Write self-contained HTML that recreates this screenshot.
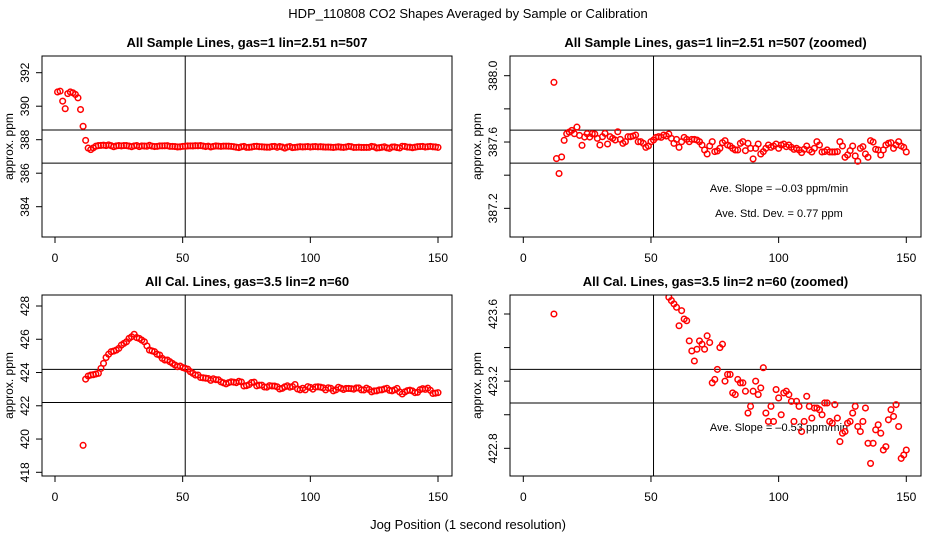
<!DOCTYPE html>
<html><head><meta charset="utf-8"><style>
html,body{margin:0;background:#fff;overflow:hidden;width:936px;height:540px}
svg{display:block;font-family:"Liberation Sans",sans-serif}
</style></head><body>
<svg id="c" width="936" height="540" viewBox="0 0 936 540">
<text x="468" y="18" text-anchor="middle" font-size="13">HDP_110808  CO2 Shapes Averaged by Sample or Calibration</text>
<text x="468" y="529" text-anchor="middle" font-size="13">Jog Position (1 second resolution)</text>
</svg>
<script>
const sampleX=[1,2,3,4,5,6,7,8,9,10,11,12,13,14,15,16,17,18,19,20,21,22,23,24,25,26,27,28,29,30,31,32,33,34,35,36,37,38,39,40,41,42,43,44,45,46,47,48,49,50,51,52,53,54,55,56,57,58,59,60,61,62,63,64,65,66,67,68,69,70,71,72,73,74,75,76,77,78,79,80,81,82,83,84,85,86,87,88,89,90,91,92,93,94,95,96,97,98,99,100,101,102,103,104,105,106,107,108,109,110,111,112,113,114,115,116,117,118,119,120,121,122,123,124,125,126,127,128,129,130,131,132,133,134,135,136,137,138,139,140,141,142,143,144,145,146,147,148,149,150];
const sampleY=[390.85,390.9,390.3,389.85,390.75,390.85,390.8,390.7,390.5,389.8,388.8,387.96,387.50,387.41,387.51,387.61,387.65,387.66,387.67,387.65,387.69,387.64,387.58,387.63,387.65,387.63,387.65,387.648,387.622,387.582,387.632,387.652,387.588,387.632,387.622,387.612,387.662,387.616,387.592,387.602,387.632,387.632,387.636,387.642,387.602,387.602,387.592,387.568,387.576,387.602,387.612,387.628,387.632,387.628,387.642,387.636,387.648,387.622,387.592,387.616,387.568,387.602,387.628,387.616,387.602,387.616,387.616,387.612,387.602,387.582,387.552,387.528,387.576,387.602,387.542,387.546,387.562,387.596,387.608,387.582,387.576,387.562,387.552,387.552,387.592,387.602,387.548,387.592,387.562,387.498,387.562,387.588,387.528,387.542,387.562,387.582,387.568,387.576,387.588,387.562,387.582,387.588,387.572,387.582,387.568,387.556,387.562,387.552,387.536,387.556,387.576,387.552,387.540,387.562,387.602,387.582,387.540,387.542,387.552,387.540,387.540,387.540,387.542,387.602,387.576,387.508,387.522,387.548,387.576,387.516,387.484,387.562,387.572,387.528,387.508,387.608,387.600,387.556,387.552,387.522,387.552,387.582,387.592,387.596,387.562,387.582,387.602,387.576,387.568,387.540];
const calX=[11,12,13,14,15,16,17,18,19,20,21,22,23,24,25,26,27,28,29,30,31,32,33,34,35,36,37,38,39,40,41,42,43,44,45,46,47,48,49,50,51,52,53,54,55,56,57,58,59,60,61,62,63,64,65,66,67,68,69,70,71,72,73,74,75,76,77,78,79,80,81,82,83,84,85,86,87,88,89,90,91,92,93,94,95,96,97,98,99,100,101,102,103,104,105,106,107,108,109,110,111,112,113,114,115,116,117,118,119,120,121,122,123,124,125,126,127,128,129,130,131,132,133,134,135,136,137,138,139,140,141,142,143,144,145,146,147,148,149,150];
const calY=[419.62,423.6,423.79,423.85,423.87,423.91,423.95,424.25,424.55,424.9,425.1,425.25,425.29,425.35,425.45,425.65,425.75,425.85,426.05,426.15,426.3,426.1,426.05,425.95,425.85,425.6,425.35,425.3,425.25,425.1,425.05,424.85,424.75,424.75,424.65,424.55,424.45,424.35,424.39,424.3,424.25,424.2,424.05,423.95,423.85,423.85,423.70,423.68,423.66,423.64,423.53,423.62,423.57,423.56,423.44,423.38,423.32,423.39,423.44,423.42,423.39,423.47,423.43,423.19,423.21,423.27,423.40,423.42,423.20,423.24,423.24,423.13,423.12,423.21,423.19,423.19,423.14,423.01,423.05,423.14,423.20,423.12,423.16,423.28,423.01,422.96,423.05,422.96,423.15,423.10,423.00,423.13,423.14,423.12,423.08,422.96,423.08,423.05,422.90,422.96,423.11,423.05,422.98,423.04,423.04,423.03,423.00,423.07,423.07,422.96,422.95,423.06,422.98,422.84,422.89,422.90,422.95,422.96,423.01,423.05,422.93,422.90,422.96,423.04,422.83,422.71,422.83,422.91,422.94,422.89,422.79,422.81,422.97,423.03,422.99,423.06,422.93,422.74,422.76,422.79];
const xTicks=[0,50,100,150];
const tlTicks=[384,386,388,390,392], trTicks=[387.2,387.4,387.6,387.8,388.0], blTicks=[418,420,422,424,426,428], brTicks=[422.8,423.0,423.2,423.4,423.6];
const tlLabels=["384","386","388","390","392"], trLabels=["387.2","","387.6","","388.0"], blLabels=["418","420","422","424","426","428"], brLabels=["422.8","","423.2","","423.6"];
const tlH=[388.58,386.6], trH=[387.672,387.473], blH=[424.19,422.2], brH=[423.27,423.07];
const vLine=51;
const svg=document.getElementById('c');const NS='http://www.w3.org/2000/svg';
function mk(t,a,p){const e=document.createElementNS(NS,t);for(const k in a)e.setAttribute(k,a[k]);(p||svg).appendChild(e);return e;}
const panels=[
 {id:'tl',x0:42,x1:452,y0:56,y1:237,px0:55,v0:392,pv0:72.7,k:16.75,ticks:tlTicks,labels:tlLabels,h:tlH,X:sampleX,Y:sampleY,title:'All Sample Lines, gas=1 lin=2.51 n=507',notes:[]},
 {id:'tr',x0:510,x1:921,y0:56,y1:237,px0:523.3,v0:388.0,pv0:75.7,k:165.8,ticks:trTicks,labels:trLabels,h:trH,X:sampleX,Y:sampleY,title:'All Sample Lines, gas=1 lin=2.51 n=507 (zoomed)',notes:[['Ave. Slope =  \u20130.03  ppm/min',192],['Ave. Std. Dev. =  0.77  ppm',217]]},
 {id:'bl',x0:42,x1:452,y0:295,y1:476,px0:55,v0:428,pv0:306,k:16.63,ticks:blTicks,labels:blLabels,h:blH,X:calX,Y:calY,title:'All Cal. Lines, gas=3.5 lin=2 n=60',notes:[]},
 {id:'br',x0:510,x1:921,y0:295,y1:476,px0:523.3,v0:423.6,pv0:314,k:167.9,ticks:brTicks,labels:brLabels,h:brH,X:calX,Y:calY,title:'All Cal. Lines, gas=3.5 lin=2 n=60 (zoomed)',notes:[['Ave. Slope =  \u20130.53  ppm/min',431]]}
];
panels.forEach(P=>{
 const sx=v=>P.px0+v*(383/150), sy=v=>P.pv0+(P.v0-v)*P.k;
 const g=mk('g',{});
 
 
 const t=mk('text',{x:(P.x0+P.x1)/2,y:P.y0-9,'text-anchor':'middle','font-size':13,'font-weight':'bold'},g);t.textContent=P.title;
 
 
 const cp=mk('clipPath',{id:'cp'+P.id},g);mk('rect',{x:P.x0,y:P.y0,width:P.x1-P.x0,height:P.y1-P.y0},cp);
 xTicks.forEach(v=>{const x=sx(v);mk('line',{x1:x,x2:x,y1:P.y1,y2:P.y1+6,stroke:'#000'},g);
  const l=mk('text',{x:x,y:P.y1+25,'text-anchor':'middle','font-size':12},g);l.textContent=v;
  
  });
 P.ticks.forEach((v,i)=>{const y=sy(v);mk('line',{x1:P.x0-6,x2:P.x0,y1:y,y2:y,stroke:'#000'},g);
  if(P.labels[i]){const lx=P.x0-13;const l=mk('text',{x:lx,y:y,'text-anchor':'middle','font-size':12,transform:`rotate(-90 ${lx} ${y})`},g);l.textContent=P.labels[i];
  
  }});
 const tx=P.x0-29, ty=(P.y0+P.y1)/2;
 const yl=mk('text',{x:tx,y:ty,'text-anchor':'middle','font-size':12,transform:`rotate(-90 ${tx} ${ty})`},g);
 yl.textContent='approx. ppm';
 
 
 const inner=mk('g',{'clip-path':`url(#cp${P.id})`},g);
 P.h.forEach(v=>{const y=sy(v);const l=mk('line',{x1:P.x0,x2:P.x1,y1:y,y2:y,stroke:'#000'},inner);
  
  });
 const vx=sx(vLine);mk('line',{x1:vx,x2:vx,y1:P.y0,y2:P.y1,stroke:'#000'},inner);
 P.notes.forEach(n=>{const l=mk('text',{x:779,y:n[1],'text-anchor':'middle','font-size':11},g);l.textContent=n[0];
  
  });
 const pts=mk('g',{'clip-path':`url(#cp${P.id})`},g);
 P.X.forEach((xv,i)=>{const c=mk('circle',{cx:sx(xv),cy:sy(P.Y[i]),r:2.8,fill:'none',stroke:'#f00','stroke-width':1.5},pts);
  
  });
 mk('rect',{x:P.x0,y:P.y0,width:P.x1-P.x0,height:P.y1-P.y0,fill:'none',stroke:'#000'},g);
});
</script>
</body></html>
